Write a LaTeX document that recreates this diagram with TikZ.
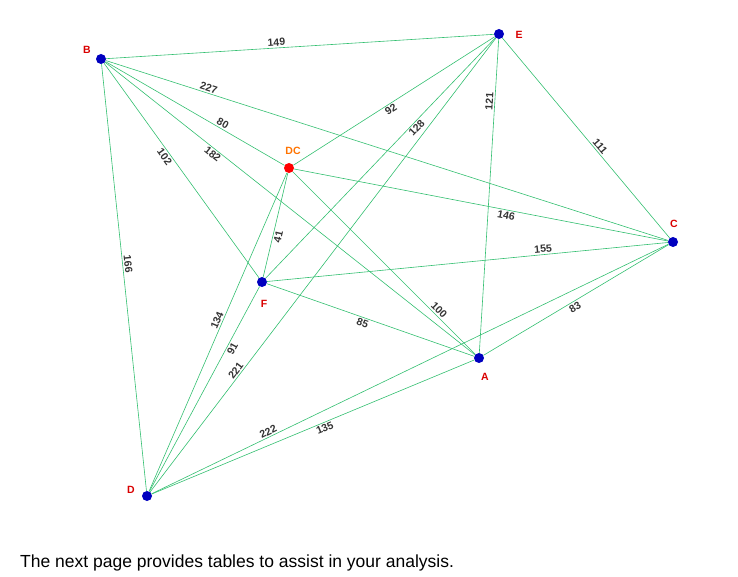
\documentclass[tikz,border=0pt]{standalone}
\usepackage{fontspec}
\setmainfont{Liberation Sans}
\usetikzlibrary{backgrounds}
\begin{document}
\begin{tikzpicture}[x=1pt,y=-1pt,
  edge/.style={draw=green!55!black!70!cyan!80, line width=0.6pt},
  lbl/.style={font=\bfseries\fontsize{10.5}{11}\selectfont, text=black!80, sloped, inner sep=1.5pt},
  pt/.style={circle, fill=blue!75!black, inner sep=0pt, minimum size=10pt},
  nm/.style={font=\bfseries\fontsize{10.5}{11}\selectfont, text=red!85!black}]
\useasboundingbox (0,0) rectangle (738,577);
\node[pt] (B) at (101,59) {};
\node[pt] (E) at (499,34) {};
\node[pt, fill=red] (DC) at (289,168) {};
\node[pt] (C) at (673,242) {};
\node[pt] (F) at (262,282) {};
\node[pt] (A) at (479,358) {};
\node[pt] (D) at (147,496) {};
\node[nm] (lB) at (87,50) {B};
\node[nm] (lE) at (519,35) {E};
\node[nm, text=orange!90!red] (lDC) at (293,151) {DC};
\node[nm] (lC) at (674,224) {C};
\node[nm] (lF) at (264,304) {F};
\node[nm] (lA) at (485,377) {A};
\node[nm] (lD) at (131,490) {D};
\begin{scope}[on background layer]
\path[edge] (B) -- node[lbl,pos=0.44,above] {149} (E);
\path[edge] (B) -- node[lbl,pos=0.18,above] {227} (C);
\path[edge] (B) -- node[lbl,pos=0.64,above] {80} (DC);
\path[edge] (B) -- node[lbl,pos=0.30,below] {182} (A);
\path[edge] (B) -- node[lbl,pos=0.42,below] {102} (F);
\path[edge] (B) -- node[lbl,pos=0.47,above] {166} (D);
\path[edge] (E) -- node[lbl,pos=0.53,below] {92} (DC);
\path[edge] (E) -- node[lbl,pos=0.36,below] {128} (F);
\path[edge] (E) -- node[lbl,pos=0.2,above] {121} (A);
\path[edge] (E) -- node[lbl,pos=0.56,above] {111} (C);
\path[edge] (E) -- node[lbl,pos=0.74,above] {221} (D);
\path[edge] (DC) -- node[lbl,pos=0.57,below] {146} (C);
\path[edge] (DC) -- node[lbl,pos=0.78,above] {100} (A);
\path[edge] (DC) -- node[lbl,pos=0.6,below] {41} (F);
\path[edge] (DC) -- node[lbl,pos=0.47,above] {134} (D);
\path[edge] (F) -- node[lbl,pos=0.69,above] {155} (C);
\path[edge] (F) -- node[lbl,pos=0.47,below] {85} (A);
\path[edge] (F) -- node[lbl,pos=0.29,below] {91} (D);
\path[edge] (A) -- node[lbl,pos=0.48,below] {83} (C);
\path[edge] (D) -- node[lbl,pos=0.23,above] {222} (C);
\path[edge] (D) -- node[lbl,pos=0.53,below] {135} (A);
\end{scope}
\node[anchor=base west, font=\fontsize{17.5}{19}\selectfont, inner sep=0pt] (txt) at (20,567) {The next page provides tables to assist in your analysis.};
\end{tikzpicture}
\end{document}
